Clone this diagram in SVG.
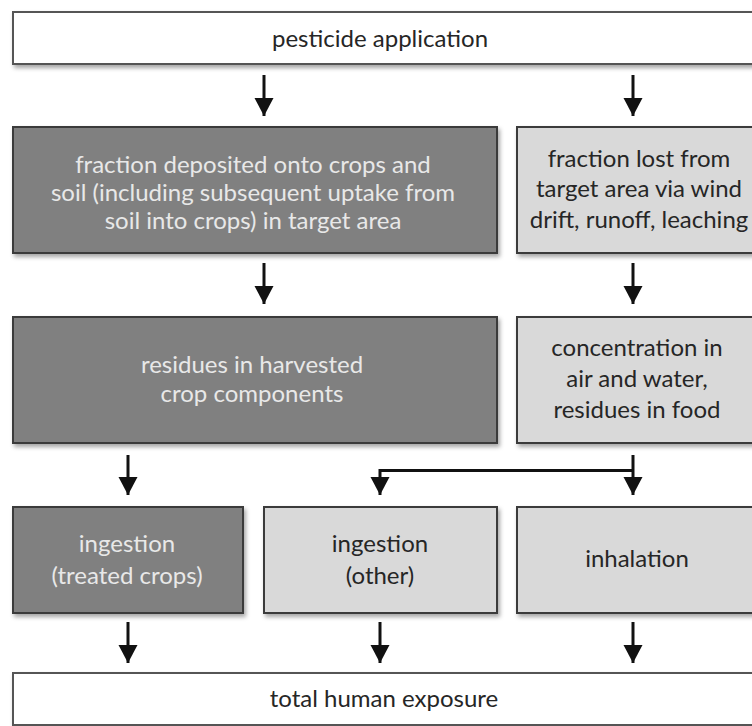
<svg xmlns="http://www.w3.org/2000/svg" width="752" height="726" viewBox="0 0 752 726">
  <defs>
    <filter id="sh" x="-5%" y="-10%" width="115%" height="130%">
      <feDropShadow dx="2" dy="3" stdDeviation="2" flood-color="#000" flood-opacity="0.35"/>
    </filter>
    <marker id="ah" markerUnits="userSpaceOnUse" markerWidth="20" markerHeight="20" refX="18" refY="9.5" orient="auto">
      <path d="M0,0 L18,9.5 L0,19 z" fill="#111"/>
    </marker>
    <style>
      .box { stroke: #3a3a3a; stroke-width: 2; filter: url(#sh); }
      .white { fill: #ffffff; stroke: #555; }
      .dark { fill: #808080; }
      .light { fill: #d9d9d9; }
      text { font-family: Lato, "Open Sans", "DejaVu Sans", sans-serif; font-size: 24px; text-anchor: middle; }
      .tw { fill: #262626; }
      .td { fill: #e8e8e8; }
      .tl { fill: #262626; }
      .arrow { stroke: #111; stroke-width: 3; fill: none; marker-end: url(#ah); }
    </style>
  </defs>
  <rect width="752" height="726" fill="#ffffff"/>

  <g id="connectors">
    <line class="arrow" x1="264" y1="75" x2="264" y2="116"/>
    <line class="arrow" x1="633" y1="75" x2="633" y2="116"/>
    <line class="arrow" x1="264" y1="263" x2="264" y2="304"/>
    <line class="arrow" x1="633" y1="263" x2="633" y2="304"/>
    <line class="arrow" x1="128" y1="455" x2="128" y2="495"/>
    <line class="arrow" x1="633" y1="455" x2="633" y2="495"/>
    <path class="arrow" d="M633,470.5 H380 V495"/>
    <line class="arrow" x1="128" y1="622" x2="128" y2="663"/>
    <line class="arrow" x1="380" y1="622" x2="380" y2="663"/>
    <line class="arrow" x1="633" y1="622" x2="633" y2="663"/>
  </g>

  <g id="pesticide-application">
    <rect class="box white" x="13" y="12" width="750" height="52"/>
    <text class="tw" x="380" y="47">pesticide application</text>
  </g>

  <g id="fraction-deposited">
    <rect class="box dark" x="13" y="127" width="484" height="126"/>
    <text class="td" x="253" y="173">fraction deposited onto crops and</text>
    <text class="td" x="253" y="201">soil (including subsequent uptake from</text>
    <text class="td" x="253" y="229">soil into crops) in target area</text>
  </g>

  <g id="fraction-lost">
    <rect class="box light" x="517" y="127" width="245" height="126"/>
    <text class="tl" x="639" y="167">fraction lost from</text>
    <text class="tl" x="639" y="197">target area via wind</text>
    <text class="tl" x="639" y="228">drift, runoff, leaching</text>
  </g>

  <g id="residues-harvested">
    <rect class="box dark" x="13" y="317" width="484" height="126"/>
    <text class="td" x="252" y="373">residues in harvested</text>
    <text class="td" x="252" y="402">crop components</text>
  </g>

  <g id="concentration">
    <rect class="box light" x="517" y="317" width="245" height="126"/>
    <text class="tl" x="637" y="356">concentration in</text>
    <text class="tl" x="637" y="387">air and water,</text>
    <text class="tl" x="637" y="418">residues in food</text>
  </g>

  <g id="ingestion-treated">
    <rect class="box dark" x="13" y="507" width="230" height="106"/>
    <text class="td" x="127" y="552">ingestion</text>
    <text class="td" x="127" y="584">(treated crops)</text>
  </g>

  <g id="ingestion-other">
    <rect class="box light" x="264" y="507" width="233" height="106"/>
    <text class="tl" x="380" y="552">ingestion</text>
    <text class="tl" x="380" y="584">(other)</text>
  </g>

  <g id="inhalation">
    <rect class="box light" x="517" y="507" width="245" height="106"/>
    <text class="tl" x="637" y="567">inhalation</text>
  </g>

  <g id="total-exposure">
    <rect class="box white" x="13" y="673" width="750" height="52"/>
    <text class="tw" x="384" y="707">total human exposure</text>
  </g>
</svg>
